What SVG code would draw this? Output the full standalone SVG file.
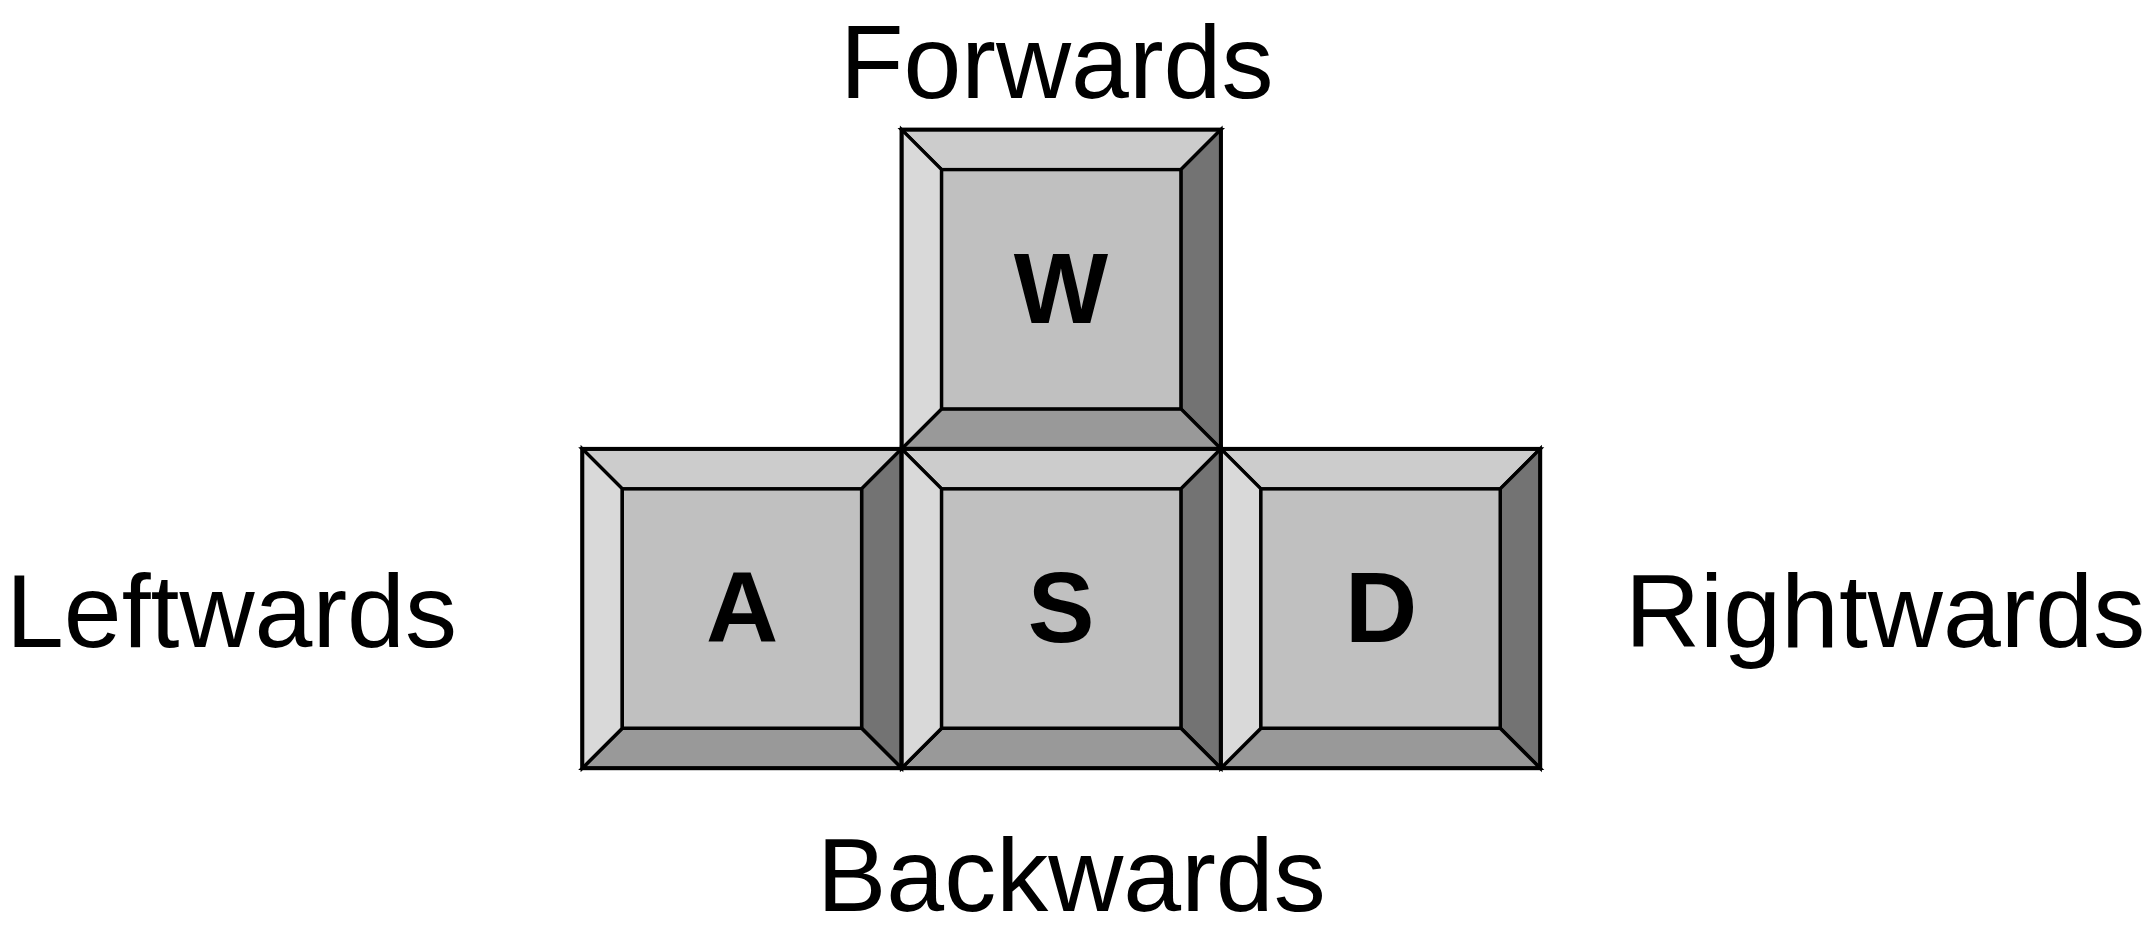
<svg xmlns="http://www.w3.org/2000/svg" xmlns:xlink="http://www.w3.org/1999/xlink" width="2155" height="933" viewBox="0 0 2155 933">
<style>
.b{stroke:#000;stroke-width:3.4;stroke-linejoin:miter}
.top{fill:#cccccc}
.lft{fill:#d9d9d9}
.rgt{fill:#737373}
.bot{fill:#999999}
.face{fill:#c0c0c0}
.edge{fill:none;stroke:#000;stroke-width:4}
.lbl{font-family:"Liberation Sans",Arial,sans-serif;font-size:104px;fill:#000}
.key{font-family:"Liberation Sans",Arial,sans-serif;font-size:100px;font-weight:bold;fill:#000;text-anchor:middle}
</style>
<defs>
<g id="keycap">
<polygon class="b top" points="0,0 319.3,0 279.3,40 40,40"/>
<polygon class="b rgt" points="319.3,0 319.3,319.3 279.3,279.3 279.3,40"/>
<polygon class="b bot" points="0,319.3 319.3,319.3 279.3,279.3 40,279.3"/>
<polygon class="b lft" points="0,0 40,40 40,279.3 0,319.3"/>
<rect class="b face" x="40" y="40" width="239.3" height="239.3"/>
<rect class="edge" x="0" y="0" width="319.3" height="319.3"/>
</g>
</defs>
<rect width="2155" height="933" fill="#fff"/>
<g id="connectors"></g>
<g id="key-w">
<use xlink:href="#keycap" href="#keycap" transform="translate(901.6,129.6)"/>
<text class="key" x="1061" y="323">W</text>
</g>
<g id="key-a">
<use xlink:href="#keycap" href="#keycap" transform="translate(582.3,448.9)"/>
<text class="key" x="742" y="642">A</text>
</g>
<g id="key-s">
<use xlink:href="#keycap" href="#keycap" transform="translate(901.6,448.9)"/>
<text class="key" x="1061" y="642">S</text>
</g>
<g id="key-d">
<use xlink:href="#keycap" href="#keycap" transform="translate(1220.9,448.9)"/>
<text class="key" x="1381" y="642">D</text>
</g>
<g id="label-forwards"><text class="lbl" x="840" y="98">Forwards</text></g>
<g id="label-leftwards"><text class="lbl" x="6" y="647">Leftwards</text></g>
<g id="label-rightwards"><text class="lbl" x="1625" y="647">Rightwards</text></g>
<g id="label-backwards"><text class="lbl" x="817" y="911">Backwards</text></g>
</svg>
